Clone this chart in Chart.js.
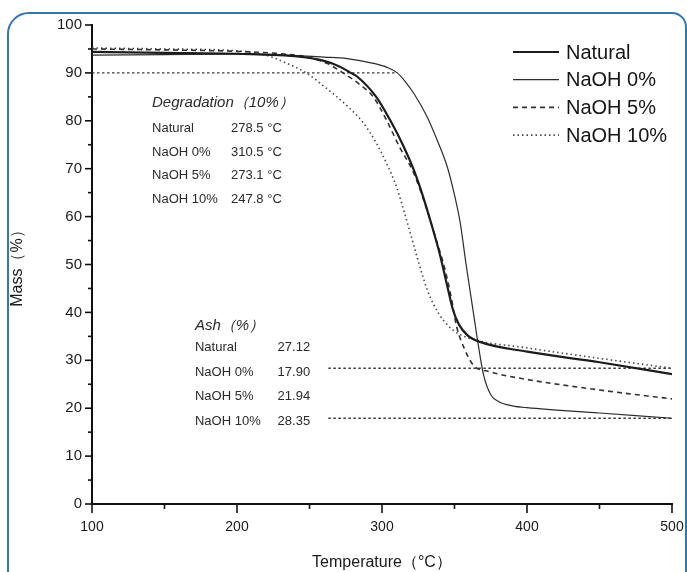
<!DOCTYPE html>
<html>
<head>
<meta charset="utf-8">
<script src="https://cdn.jsdelivr.net/npm/chart.js@4.4.1/dist/chart.umd.min.js"></script>
<style>
  html, body { margin: 0; padding: 0; background: #fff; overflow: hidden; }
  #wrap { position: relative; width: 687px; height: 572px; }
  #frame {
    position: absolute; left: 7px; top: 12px; width: 680px; height: 640px;
    border: 2px solid #2f78b4; border-radius: 22px 15px 0 0;
    box-sizing: border-box; pointer-events: none;
  }
  canvas { position: absolute; left: 0; top: 0; }
</style>
</head>
<body>
<div id="wrap">
  <div id="frame"></div>
  <canvas id="tga" width="687" height="572"></canvas>
</div>
<script>
// TGA curves, temperature (°C) vs mass (%)
const natTemp = [100, 150, 200, 243, 260, 271, 278.5, 283, 296, 305.5, 315, 322, 328, 334, 340, 345, 349, 353, 359, 367, 400, 450, 500];
const natMass = [94.4, 94.2, 94.0, 93.4, 92.5, 91.3, 90, 89.2, 85, 80.2, 74.6, 69.7, 64.5, 58.5, 52, 45.5, 40.5, 37.5, 35.2, 33.9, 31.8, 29.6, 27.12];

const na0Temp = [100, 150, 200, 230, 260, 276, 294, 303, 310.5, 316, 322, 331, 338, 345, 350, 354, 358, 363, 366.5, 370, 375, 381, 390, 400, 450, 500];
const na0Mass = [93.7, 93.8, 93.9, 93.7, 93.3, 93.0, 92.0, 91.2, 90, 88.2, 85.7, 80.9, 76, 70.4, 64.5, 58.6, 50, 40, 33, 27, 22.8, 21.3, 20.5, 20.1, 19.0, 17.9];

const na5Temp = [100, 150, 200, 230, 250, 262, 273.1, 285, 294, 303, 312, 322, 331, 337, 343, 347.5, 351.5, 357, 363, 374.5, 400, 450, 500];
const na5Mass = [95.0, 94.8, 94.5, 94.0, 93.2, 92.0, 90, 87.5, 85, 80.2, 74.6, 69, 61.4, 55.5, 49.5, 43.5, 37, 32.3, 29, 27.6, 26.0, 23.8, 21.94];

const na10Temp = [100, 150, 200, 220, 232, 247.8, 262, 276, 287, 296, 303, 310, 317, 324, 331, 339, 349, 365, 395, 450, 500];
const na10Mass = [95.2, 95.0, 94.6, 93.7, 92.3, 90, 86.7, 83.1, 79.6, 75.4, 71.2, 66.2, 59.2, 51.8, 44.9, 39.8, 36.3, 34.2, 32.8, 30.4, 28.35];

// reference lines (10% degradation, ash levels)
const degRefTemp = [100, 310.5];
const degRefMass = [90, 90];
const ashRefTemp = [263, 500];
const ashHighMass = [28.35, 28.35];
const ashLowMass = [17.90, 17.90];

const seriesNames = ['Natural', 'NaOH 0%', 'NaOH 5%', 'NaOH 10%'];
const degValues = ['278.5 °C', '310.5 °C', '273.1 °C', '247.8 °C'];
const ashValues = ['27.12', '17.90', '21.94', '28.35'];

const FONT = '"Liberation Sans", Arial, sans-serif';

function pts(t, m) {
  return t.map((v, i) => ({ x: v, y: m[i] }));
}

function curve(label, t, m, width, color, dash) {
  return {
    label: label,
    data: pts(t, m),
    borderColor: color,
    borderWidth: width,
    borderDash: dash,
    pointRadius: 0,
    fill: false,
    cubicInterpolationMode: 'monotone'
  };
}

function refLine(t, m) {
  return {
    label: '',
    data: pts(t, m),
    borderColor: '#3a3a3a',
    borderWidth: 1.4,
    borderDash: [2.5, 2.5],
    pointRadius: 0,
    fill: false,
    tension: 0
  };
}

// outward ticks, long on the labelled values, short between
const axisTicks = {
  id: 'axisTicks',
  afterDraw(chart) {
    const { ctx, scales: { x, y } } = chart;
    ctx.save();
    ctx.strokeStyle = '#111';
    ctx.lineWidth = 1.6;
    y.ticks.forEach(t => {
      const py = y.getPixelForValue(t.value);
      const len = t.value % 10 === 0 ? 7 : 4;
      ctx.beginPath();
      ctx.moveTo(x.left - len, py);
      ctx.lineTo(x.left, py);
      ctx.stroke();
    });
    x.ticks.forEach(t => {
      const px = x.getPixelForValue(t.value);
      const len = t.value % 100 === 0 ? 9 : 5;
      ctx.beginPath();
      ctx.moveTo(px, y.bottom);
      ctx.lineTo(px, y.bottom + len);
      ctx.stroke();
    });
    ctx.restore();
  }
};

// legend in the upper right and the two text tables
const notes = {
  id: 'notes',
  afterDraw(chart) {
    const { ctx, chartArea, scales: { x, y } } = chart;
    ctx.save();

    // legend
    ctx.textBaseline = 'middle';
    ctx.textAlign = 'left';
    ctx.font = '20px ' + FONT;
    for (let i = 0; i < 4; i++) {
      const ds = chart.data.datasets[i];
      const ly = chartArea.top + 27 + i * 27.7;
      ctx.strokeStyle = ds.borderColor;
      ctx.lineWidth = ds.borderWidth;
      ctx.setLineDash(ds.borderDash || []);
      ctx.beginPath();
      ctx.moveTo(chartArea.right - 159, ly);
      ctx.lineTo(chartArea.right - 113, ly);
      ctx.stroke();
      ctx.setLineDash([]);
      ctx.fillStyle = '#151515';
      ctx.fillText(seriesNames[i], chartArea.right - 106, ly + 1);
    }

    // degradation table
    ctx.fillStyle = '#2a2a2a';
    ctx.font = 'italic 15px ' + FONT;
    ctx.fillText('Degradation（10%）', x.getPixelForValue(141.4), y.getPixelForValue(83.7));
    ctx.font = '13px ' + FONT;
    for (let i = 0; i < 4; i++) {
      const ry = y.getPixelForValue(78.5 - i * 5);
      ctx.fillText(seriesNames[i], x.getPixelForValue(141.4), ry);
      ctx.fillText(degValues[i], x.getPixelForValue(195.9), ry);
    }

    // ash table
    ctx.font = 'italic 15px ' + FONT;
    ctx.fillText('Ash（%）', x.getPixelForValue(171), y.getPixelForValue(37.2));
    ctx.font = '13px ' + FONT;
    for (let i = 0; i < 4; i++) {
      const ry = y.getPixelForValue(32.6 - i * 5.1);
      ctx.fillText(seriesNames[i], x.getPixelForValue(171), ry);
      ctx.fillText(ashValues[i], x.getPixelForValue(228), ry);
    }
    ctx.restore();
  }
};

new Chart(document.getElementById('tga'), {
  type: 'line',
  data: {
    datasets: [
      curve('Natural', natTemp, natMass, 2.2, '#1c1c1c', []),
      curve('NaOH 0%', na0Temp, na0Mass, 1.2, '#2c2c2c', []),
      curve('NaOH 5%', na5Temp, na5Mass, 1.6, '#333333', [5, 4]),
      curve('NaOH 10%', na10Temp, na10Mass, 1.6, '#4a4a4a', [1.5, 3]),
      refLine(degRefTemp, degRefMass),
      refLine(ashRefTemp, ashHighMass),
      refLine(ashRefTemp, ashLowMass)
    ]
  },
  options: {
    responsive: false,
    animation: false,
    layout: { padding: { left: 0, top: 25, right: 15, bottom: 0 } },
    plugins: {
      legend: { display: false },
      tooltip: { enabled: false }
    },
    scales: {
      x: {
        type: 'linear',
        min: 100,
        max: 500,
        // label padding would otherwise widen the right margin
        afterFit: s => { s.height = 68; s.paddingRight = 15; },
        border: { color: '#111', width: 2 },
        grid: { drawOnChartArea: false, drawTicks: false },
        ticks: {
          stepSize: 50,
          autoSkip: false,
          maxRotation: 0,
          padding: 15,
          color: '#1a1a1a',
          font: { family: FONT, size: 14 },
          callback: v => (v % 100 === 0 ? v : '')
        },
        title: {
          display: true,
          text: 'Temperature（°C）',
          color: '#1a1a1a',
          font: { family: FONT, size: 16 },
          padding: { top: 4, bottom: 0 }
        }
      },
      y: {
        min: 0,
        max: 100,
        afterFit: s => { s.width = 92; },
        border: { color: '#111', width: 2 },
        grid: { drawOnChartArea: false, drawTicks: false },
        ticks: {
          stepSize: 5,
          autoSkip: false,
          padding: 10,
          color: '#1a1a1a',
          font: { family: FONT, size: 15 },
          callback: v => (v % 10 === 0 ? v : '')
        },
        title: {
          display: true,
          text: 'Mass（%）',
          color: '#1a1a1a',
          font: { family: FONT, size: 16 },
          padding: { top: 8, bottom: 0 }
        }
      }
    }
  },
  plugins: [axisTicks, notes]
});
</script>
</body>
</html>
